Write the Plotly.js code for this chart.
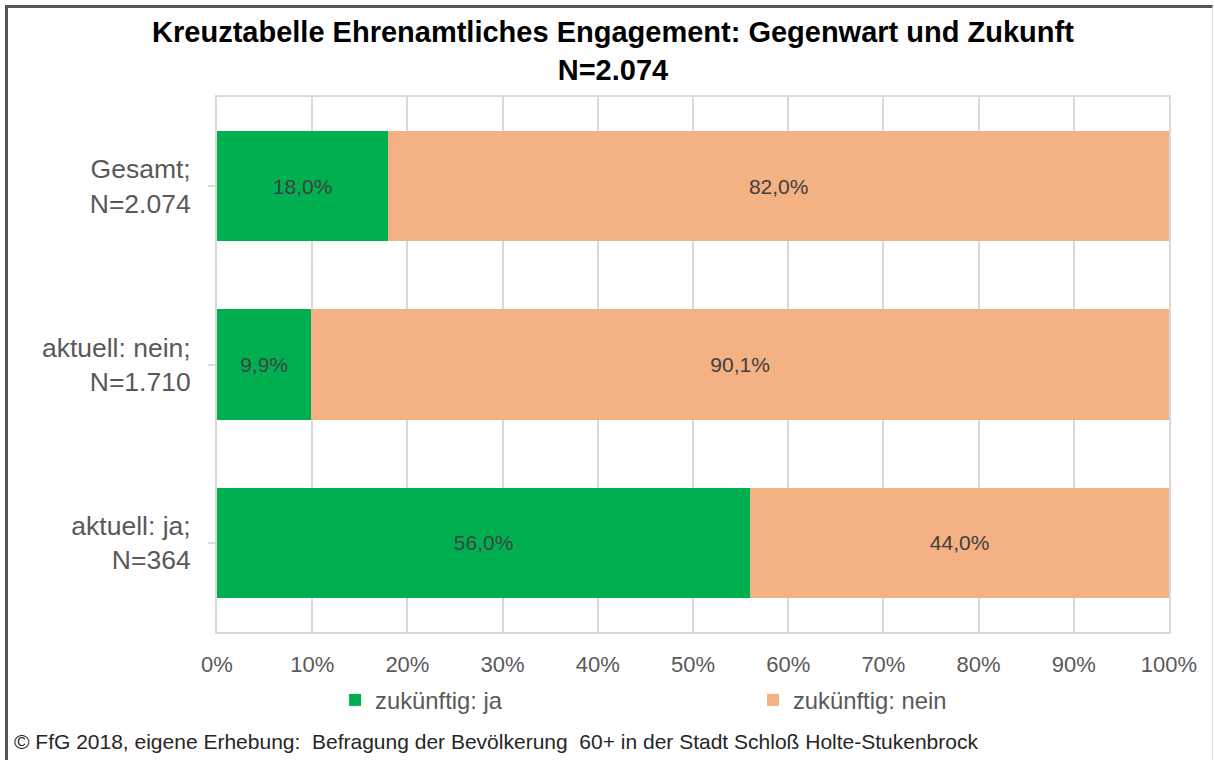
<!DOCTYPE html>
<html>
<head>
<meta charset="utf-8">
<script src="https://cdn.plot.ly/plotly-3.0.1.min.js"></script>
<style>
  html, body { margin: 0; padding: 0; background: #fff; }
  #wrap { position: relative; width: 1215px; height: 760px; }
  #chart { width: 1215px; height: 760px; }
  #frame { position: absolute; left: 5px; top: 5px; width: 1204px; height: 770px;
           border-top: 3px solid #555; border-left: 3px solid #555; border-right: 1px solid #ddd;
           pointer-events: none; }
</style>
</head>
<body>
<div id="wrap">
  <div id="chart"></div>
  <div id="frame"></div>
</div>
<script>
const categories = ["aktuell: ja;<br>N=364", "aktuell: nein;<br>N=1.710", "Gesamt;<br>N=2.074"];
const seriesNames = ["zukünftig: ja", "zukünftig: nein"];
const valuesJa = [56.0, 9.9, 18.0];
const valuesNein = [44.0, 90.1, 82.0];
const xTickValues = [0, 10, 20, 30, 40, 50, 60, 70, 80, 90, 100];
const xTickLabels = ["0%", "10%", "20%", "30%", "40%", "50%", "60%", "70%", "80%", "90%", "100%"];
const titleText = "Kreuztabelle Ehrenamtliches Engagement: Gegenwart und Zukunft<br>N=2.074";
const footerText = "© FfG 2018, eigene Erhebung:\u00a0 Befragung der Bevölkerung\u00a0 60+ in der Stadt Schloß Holte-Stukenbrock";

const font = "Liberation Sans, Arial, sans-serif";
const grey = "#595959";
const gridC = "#d9d9d9";

const common = {
  type: "bar", orientation: "h", y: categories,
  texttemplate: "%{x:.1f}%", textposition: "inside", insidetextanchor: "middle",
  textfont: {family: font, size: 21, color: "#404040"},
  hoverinfo: "skip", constraintext: "none"
};
const traces = [
  Object.assign({}, common, {x: valuesJa, name: seriesNames[0], marker: {color: "#00B050"}, legend: "legend"}),
  Object.assign({}, common, {x: valuesNein, name: seriesNames[1], marker: {color: "#F4B183"}, legend: "legend2"})
];

const layout = {
  width: 1215, height: 760,
  separators: ",.",
  barmode: "stack", bargap: 0.38,
  margin: {l: 217, r: 46, t: 97, b: 128},
  paper_bgcolor: "#fff", plot_bgcolor: "#fff",
  font: {family: font, color: grey},
  title: {text: titleText, font: {family: font, size: 29, color: "#000", weight: "bold"},
          x: 0.5045, xref: "container", xanchor: "center", y: 0.945, yref: "container", yanchor: "top"},
  xaxis: {range: [0, 100], tickmode: "array", tickvals: xTickValues, ticktext: xTickLabels, showgrid: true,
          gridcolor: gridC, gridwidth: 2, zeroline: false, showline: true, linecolor: gridC,
          linewidth: 2, mirror: true, ticks: "", ticklabelstandoff: 12,
          tickfont: {family: font, size: 22, color: grey}, fixedrange: true},
  yaxis: {categoryorder: "array", categoryarray: categories, showgrid: false, zeroline: false,
          showline: true, linecolor: gridC, linewidth: 2, mirror: true,
          ticks: "outside", ticklen: 7, tickcolor: gridC, tickwidth: 2,
          ticklabelstandoff: 12,
          tickfont: {family: font, size: 26.5, color: grey}, fixedrange: true},
  legend: {orientation: "h", x: 0.124, xanchor: "left", y: -0.127, yanchor: "middle",
           font: {family: font, size: 23.8, color: grey}, bgcolor: "rgba(0,0,0,0)"},
  legend2: {orientation: "h", x: 0.563, xanchor: "left", y: -0.127, yanchor: "middle",
           font: {family: font, size: 23.8, color: grey}, bgcolor: "rgba(0,0,0,0)"},
  showlegend: true,
  annotations: [{
    text: footerText, xref: "paper", yref: "paper", x: -0.2153, y: -0.2056,
    xanchor: "left", yanchor: "middle", showarrow: false,
    font: {family: font, size: 21, color: "#262626"}
  }]
};

Plotly.newPlot("chart", traces, layout, {displayModeBar: false, staticPlot: true});
</script>
</body>
</html>
